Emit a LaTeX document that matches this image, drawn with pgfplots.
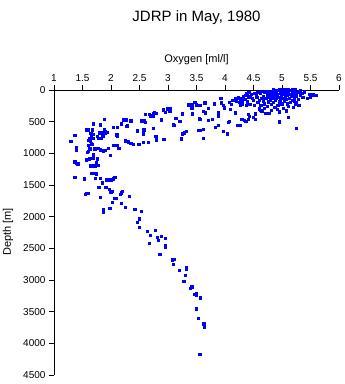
\documentclass[border=0pt]{standalone}
\usepackage{pgfplots}
\pgfplotsset{compat=1.18}
\usepackage{pgfplotstable}
\usepackage{fontspec}
\setmainfont{Liberation Sans}
\pgfplotstableread{
x d
1.30 810
1.37 720
1.39 947
1.40 911
1.37 1137
1.42 1168
1.37 1379
1.54 1411
1.55 1647
1.61 1632
1.81 1695
1.87 1895
1.87 1930
1.99 1868
2.03 1773
2.10 1710
2.16 1647
2.20 1600
2.32 1679
2.03 1605
1.98 1574
1.91 1537
1.78 1537
1.82 1400
1.92 1421
2.00 1421
2.07 1379
1.75 1326
1.70 1316
1.66 1316
1.78 1195
1.75 1142
1.69 1084
1.62 1095
1.60 1095
1.57 1105
1.69 1037
1.61 974
1.76 1084
1.64 1200
1.68 1200
1.72 1200
1.99 1032
1.88 955
1.91 950
1.81 947
1.78 921
1.72 932
1.63 932
1.60 879
1.66 853
1.68 858
1.64 816
1.61 800
1.63 763
1.69 770
1.78 768
1.84 765
1.86 726
1.76 735
1.66 726
1.70 700
1.65 684
1.57 632
1.69 537
1.84 684
1.88 632
1.91 658
1.81 553
1.88 463
1.95 921
2.07 879
2.11 879
2.14 921
2.10 711
2.12 700
2.05 590
2.11 590
2.18 537
2.22 474
2.27 474
2.29 568
2.36 495
2.31 821
2.35 840
2.39 858
2.26 805
2.46 642
2.49 863
2.57 832
2.57 495
2.61 510
2.58 632
2.57 695
2.66 832
2.60 384
2.70 411
2.74 411
2.79 368
2.74 605
2.80 747
2.80 790
2.88 474
2.93 779
2.92 316
3.00 300
3.02 330
3.04 295
3.09 553
3.14 447
3.21 500
3.26 684
3.29 680
3.33 650
3.26 384
3.36 237
3.42 237
3.42 290
3.43 379
3.48 200
3.50 237
3.54 642
1.31 816
1.61 632
1.68 632
1.80 680
1.85 670
1.90 690
1.93 675
2.19 542
2.35 490
2.54 490
2.58 490
2.27 579
2.11 731
2.05 879
2.46 647
2.57 700
2.68 384
2.74 379
2.79 731
1.39 958
1.59 990
1.63 1079
1.69 1026
1.76 1095
1.87 963
1.40 1158
1.74 1142
1.54 1405
1.73 1395
1.81 1395
1.85 1468
1.95 1421
2.05 1405
1.92 1537
1.79 1537
2.00 1611
1.58 1632
2.07 1711
2.19 1626
2.18 1790
2.02 1774
2.25 1853
1.98 1868
1.87 1911
2.42 1884
2.53 1916
2.50 2037
2.46 2095
2.50 2168
2.64 2232
2.78 2216
2.69 2295
2.82 2332
2.83 2374
2.89 2311
2.95 2348
2.67 2421
2.95 2485
2.95 2455
2.86 2595
3.08 2684
3.11 2670
3.09 2753
3.20 2848
3.32 2806
3.32 2830
3.31 2927
3.28 3021
3.40 3132
3.42 3110
3.46 3227
3.50 3248
3.50 3210
3.57 3285
3.50 3458
3.53 3606
3.63 3695
3.64 3753
3.56 4174
2.77 363
2.89 479
2.95 350
3.04 337
3.05 295
3.11 558
3.14 453
3.21 495
3.25 379
3.36 242
3.40 242
3.25 705
3.23 774
3.47 195
3.56 242
3.43 379
3.55 453
3.56 470
3.66 363
3.62 340
3.65 205
3.71 479
3.62 626
3.56 642
3.62 768
3.71 295
3.78 468
3.82 221
3.88 350
3.88 390
3.88 420
3.92 137
3.94 130
3.84 590
3.89 558
3.97 242
3.94 205
3.99 284
3.97 653
4.06 511
4.08 500
4.05 695
4.09 311
4.12 232
4.08 200
4.14 170
4.19 140
4.24 125
4.28 150
4.31 170
4.18 363
4.30 460
4.34 479
4.37 500
4.22 558
4.24 565
4.27 558
4.41 468
4.43 420
4.38 63
4.40 80
4.42 40
4.41 384
4.41 463
4.50 440
4.53 463
4.53 379
4.63 320
4.65 332
4.72 368
4.75 368
4.78 368
4.96 347
5.11 437
4.95 505
5.26 605
4.88 279
5.10 220
5.24 230
5.25 200
5.22 180
5.49 68
5.55 80
5.61 84
5.50 120
5.45 130
4.20 180
4.25 200
4.30 220
4.33 110
4.36 150
4.40 190
4.44 230
4.45 100
4.48 130
4.50 170
4.52 250
4.55 80
4.56 120
4.58 200
4.60 160
4.62 60
4.63 240
4.65 130
4.67 100
4.68 180
4.70 40
4.70 220
4.72 140
4.74 80
4.75 260
4.76 190
4.78 110
4.79 50
4.80 160
4.81 230
4.82 20
4.83 90
4.84 130
4.85 200
4.86 60
4.87 280
4.88 110
4.89 170
4.90 30
4.91 140
4.92 80
4.93 240
4.94 10
4.95 190
4.96 120
4.97 50
4.98 160
4.99 90
5.00 0
5.00 220
5.01 130
5.02 40
5.03 70
5.04 180
5.05 20
5.06 110
5.07 150
5.08 60
5.09 10
5.10 90
5.11 260
5.12 30
5.13 130
5.14 70
5.15 200
5.16 10
5.17 100
5.18 50
5.19 160
5.20 20
5.21 80
5.22 130
5.23 40
5.24 0
5.25 100
5.26 60
5.28 20
5.29 150
5.30 40
5.32 90
5.33 10
5.35 50
5.37 120
5.40 30
4.72 20
4.78 30
4.85 0
4.90 10
4.96 0
5.02 10
5.06 0
5.12 0
5.18 0
4.58 40
4.64 20
4.52 60
4.46 70
4.42 110
4.36 90
4.30 130
4.27 240
4.38 250
4.60 300
4.70 290
4.82 320
4.92 310
5.02 290
5.08 330
5.20 280
5.30 250
}\oxy
\begin{document}
\begin{tikzpicture}
\path[use as bounding box] (-54pt,-9pt) rectangle (291pt,375pt);
\begin{axis}[
  at={(0,0)}, anchor=south west,
  scale only axis, width=285pt, height=285pt,
  xmin=1, xmax=6, ymin=0, ymax=4500, y dir=reverse,
  axis x line*=top, axis y line*=left,
  axis line style={line width=0.9pt},
  xtick={1,1.5,2,2.5,3,3.5,4,4.5,5,5.5,6},
  xticklabels={1,1.5,2,2.5,3,3.5,4,4.5,5,5.5,6},
  ytick={0,500,1000,1500,2000,2500,3000,3500,4000,4500},
  yticklabels={0,500,1000,1500,2000,2500,3000,3500,4000,4500},
  tick align=outside, major tick length=5pt,
  tick style={line width=0.9pt, black},
  tick label style={font=\fontsize{10}{12}\selectfont},
  clip=false,
]
\addplot[only marks, mark=square*, mark size=1.1pt, blue,
  mark options={draw=blue, fill=blue, line width=0pt}] table[x=x, y=d] {\oxy};
\end{axis}
\node[font=\fontsize{15}{18}\selectfont] at (142.5pt,357pt) {JDRP in May, 1980};
\node[font=\fontsize{11}{13}\selectfont] at (142.5pt,315pt) {Oxygen [ml/l]};
\node[font=\fontsize{11}{13}\selectfont, rotate=90] at (-46pt,143pt) {Depth [m]};
\end{tikzpicture}
\end{document}
